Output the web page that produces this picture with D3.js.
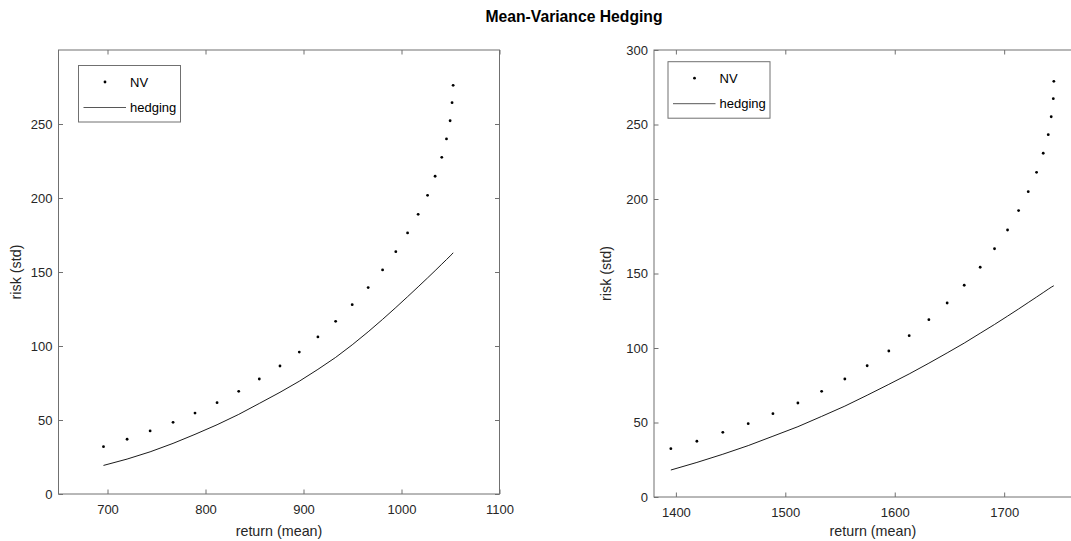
<!DOCTYPE html>
<html>
<head>
<meta charset="utf-8">
<script src="https://cdn.jsdelivr.net/npm/d3@7"></script>
<style>
  body { margin: 0; background: #fff; }
  svg { font-family: "Liberation Sans", Arial, sans-serif; }
</style>
</head>
<body>
<script>
// left panel
const retA = [695.9, 720, 743.5, 766.9, 789.3, 811.8, 833.9, 854.9, 876, 895.7, 914.7, 932.8, 949.7,
  966, 980.7, 994.2, 1006.2, 1017, 1026.6, 1034.3, 1041.1, 1045.9, 1049.6, 1051.6, 1052.7];
const nvA = [32.0, 37.0, 42.6, 48.4, 54.7, 61.7, 69.4, 77.7, 86.5, 95.9, 106.1, 116.7, 127.9,
  139.5, 151.4, 163.7, 176.4, 189.0, 201.8, 214.7, 227.5, 239.9, 252.2, 264.4, 276.1];
const hedgeA = [19.3, 23.6, 28.5, 34.2, 40.3, 46.8, 53.8, 61.2, 68.7, 76.2, 84.2, 92.3, 100.8,
  109.6, 118.0, 126.0, 133.3, 140.0, 146.0, 150.9, 155.3, 158.4, 160.8, 162.1, 163.0];

// right panel
const retB = [1395.4, 1419.2, 1442.9, 1466.1, 1488.7, 1511.5, 1533.2, 1554.4, 1574.8, 1594.6, 1613.2,
  1631.2, 1647.9, 1663.5, 1678.1, 1691.2, 1703.1, 1713.2, 1722, 1729.6, 1735.7, 1740.3, 1743, 1744.9, 1745.4];
const nvB = [32.4, 37.4, 43.4, 49.2, 55.9, 63.1, 70.9, 79.2, 88.1, 98.0, 108.3,
  119.0, 130.2, 142.1, 154.2, 166.6, 179.2, 192.2, 204.9, 217.9, 230.7, 243.2, 255.2, 267.3, 279.0];
const hedgeB = [18.1, 23.2, 28.7, 34.5, 40.8, 47.2, 54.1, 61.0, 68.3, 75.6, 82.6,
  89.8, 96.7, 103.3, 109.9, 115.8, 121.4, 126.2, 130.5, 134.2, 137.2, 139.5, 140.8, 141.6, 141.8];

const xTicksA = [700, 800, 900, 1000, 1100];
const yTicksA = [0, 50, 100, 150, 200, 250];
const xTicksB = [1400, 1500, 1600, 1700];
const yTicksB = [0, 50, 100, 150, 200, 250, 300];

const W = 1071, H = 541;
const svg = d3.select("body").append("svg").attr("width", W).attr("height", H);

svg.append("text")
  .attr("x", 574).attr("y", 22)
  .attr("text-anchor", "middle")
  .attr("font-size", 15.7).attr("font-weight", "bold")
  .attr("fill", "#000")
  .text("Mean-Variance Hedging");

const axisCol = "#262626";
const boxCol = "#707070";
const tickLen = 4.5;
const fmt = d3.format("d");

function panel(opt) {
  const x = d3.scaleLinear().domain(opt.xDom).range([opt.left, opt.right]);
  const y = d3.scaleLinear().domain(opt.yDom).range([opt.bottom, opt.top]);
  const g = svg.append("g");

  // box
  g.append("rect")
    .attr("x", opt.left).attr("y", opt.top)
    .attr("width", opt.right - opt.left).attr("height", opt.bottom - opt.top)
    .attr("fill", "none").attr("stroke", boxCol).attr("stroke-width", 1);

  // ticks (inward, on all 4 sides)
  const bx = d3.axisBottom(x).tickValues(opt.xTicks).tickSizeInner(-tickLen).tickSizeOuter(0).tickPadding(10.5).tickFormat(fmt);
  const tx = d3.axisTop(x).tickValues(opt.xTicks).tickSizeInner(-tickLen).tickSizeOuter(0).tickFormat("");
  const ly = d3.axisLeft(y).tickValues(opt.yTicks).tickSizeInner(-tickLen).tickSizeOuter(0).tickPadding(6).tickFormat(fmt);
  const ry = d3.axisRight(y).tickValues(opt.yTicks).tickSizeInner(-tickLen).tickSizeOuter(0).tickFormat("");

  const gb = g.append("g").attr("transform", `translate(0,${opt.bottom})`).call(bx);
  const gt = g.append("g").attr("transform", `translate(0,${opt.top})`).call(tx);
  const gl = g.append("g").attr("transform", `translate(${opt.left},0)`).call(ly);
  const gr = g.append("g").attr("transform", `translate(${opt.right},0)`).call(ry);
  [gb, gt, gl, gr].forEach(a => {
    a.select(".domain").remove();
    a.selectAll("line").attr("stroke", boxCol);
    a.selectAll("text").attr("fill", axisCol).attr("font-size", 13)
      .attr("font-family", "Liberation Sans, Arial, sans-serif");
  });

  // labels
  g.append("text")
    .attr("x", (opt.left + opt.right) / 2).attr("y", 536)
    .attr("text-anchor", "middle").attr("font-size", 14.3).attr("fill", axisCol)
    .text("return (mean)");
  g.append("text")
    .attr("transform", `translate(${opt.ylabX},${(opt.top + opt.bottom) / 2}) rotate(-90)`)
    .attr("text-anchor", "middle").attr("font-size", 14.3).attr("fill", axisCol)
    .text("risk (std)");

  // data
  const line = d3.line().x((d, i) => x(opt.ret[i])).y(d => y(d));
  g.append("path")
    .datum(opt.hedge)
    .attr("d", line)
    .attr("fill", "none").attr("stroke", "#000").attr("stroke-width", 0.9);

  g.selectAll("circle.nv")
    .data(opt.nv)
    .enter()
    .append("circle")
    .attr("class", "nv")
    .attr("cx", (d, i) => x(opt.ret[i]))
    .attr("cy", d => y(d))
    .attr("r", 1.4)
    .attr("fill", "#000");

  // legend
  const lg = g.append("g").attr("transform", `translate(${opt.legX},${opt.legY})`);
  lg.append("rect").attr("x", 0).attr("y", 0).attr("width", 102).attr("height", 56.5)
    .attr("fill", "#fff").attr("stroke", boxCol).attr("stroke-width", 1);
  lg.append("circle").attr("cx", 26.5).attr("cy", 16.5).attr("r", 1.4).attr("fill", "#000");
  lg.append("text").attr("x", 51.5).attr("y", 21).attr("font-size", 13).attr("fill", "#000").text("NV");
  lg.append("line").attr("x1", 5).attr("x2", 47.5).attr("y1", 42).attr("y2", 42)
    .attr("stroke", "#444").attr("stroke-width", 0.9);
  lg.append("text").attr("x", 51.5).attr("y", 46.5).attr("font-size", 13).attr("fill", "#000").text("hedging");
}

panel({
  xDom: [650, 1100], yDom: [0, 300],
  left: 58.5, right: 499.5, top: 50, bottom: 494,
  xTicks: xTicksA, yTicks: yTicksA,
  ret: retA, nv: nvA, hedge: hedgeA,
  ylabX: 21, legX: 78.5, legY: 65.5
});

panel({
  xDom: [1380, 1780], yDom: [0, 300],
  left: 654, right: 1091.7, top: 50, bottom: 497,
  xTicks: xTicksB, yTicks: yTicksB,
  ret: retB, nv: nvB, hedge: hedgeB,
  ylabX: 611, legX: 668, legY: 61.7
});
</script>
</body>
</html>
